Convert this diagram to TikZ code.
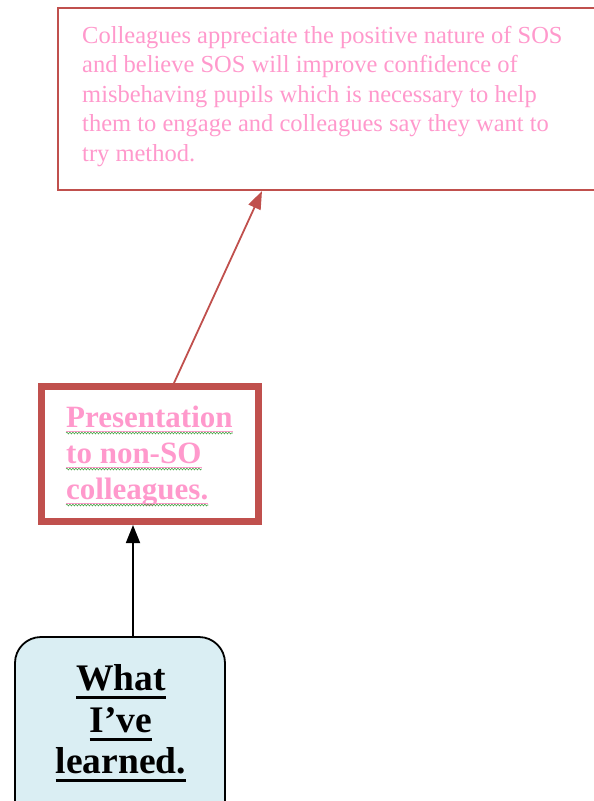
\documentclass[tikz,border=0pt]{standalone}
\usepackage{fontspec}
\setmainfont{Liberation Serif}
\usetikzlibrary{arrows.meta,calc,decorations.pathmorphing}
\definecolor{boxred}{HTML}{C0504D}
\definecolor{pinktext}{HTML}{FF99CC}
\definecolor{paleblue}{HTML}{DAEEF3}
\definecolor{spellgreen}{HTML}{4CA64C}
\tikzset{
  frame/.style={rectangle, inner sep=0pt, outer sep=0pt},
  noteline/.style={anchor=base west, inner sep=0pt, text=pinktext,
    font=\fontsize{24.5}{29.5}\selectfont},
  presline/.style={anchor=base west, inner sep=0pt, text=pinktext,
    font=\fontsize{31}{36}\selectfont\bfseries},
  learnline/.style={anchor=base, inner sep=0pt, text=black,
    font=\fontsize{37.5}{41}\selectfont\bfseries},
  redarrow/.style={draw=boxred, line width=1.8pt, -{Triangle[length=18pt,width=13pt]}},
  blackarrow/.style={draw=black, line width=1.8pt, -{Triangle[length=18pt,width=14pt]}},
}
\begin{document}
\begin{tikzpicture}[x=1pt,y=-1pt]
\useasboundingbox (0,0) rectangle (594,801);

% boxes
\node[frame, draw=boxred, line width=1.8pt, minimum width=562pt, minimum height=182pt]
  (note) at (339,99) {};
\node[frame, draw=boxred, line width=7pt, minimum width=217pt, minimum height=135pt]
  (pres) at (150,454) {};
\node[frame, draw=black, fill=paleblue, line width=1.8pt, rounded corners=26pt,
  minimum width=210pt, minimum height=193pt] (learn) at (120,733.5) {};

% text of the note box
\node[noteline] (n1) at (82,43) {Colleagues appreciate the positive nature of SOS};
\node[noteline] (n2) at (82,72.5) {and believe SOS will improve confidence of};
\node[noteline] (n3) at (82,102) {misbehaving pupils which is necessary to help};
\node[noteline] (n4) at (82,131.5) {them to engage and colleagues say they want to};
\node[noteline] (n5) at (82,161) {try method.};

% presentation box text with underlines
\node[presline] (p1) at (66,427) {Presentation};
\node[presline] (p2) at (66,463) {to non-SO};
\node[presline] (p3) at (66,499) {colleagues.};
\foreach \p in {p1,p2,p3}{
  \draw[pinktext, line width=1.2pt] ([yshift=-4.5pt]\p.base west) -- ([yshift=-4.5pt]\p.base east);
  \draw[spellgreen, line width=0.6pt, decorate,
    decoration={snake, amplitude=0.9pt, segment length=3pt}]
    ([yshift=-6pt]\p.base west) -- ([yshift=-6pt]\p.base east);
}

% learned box text with underlines
\node[learnline] (l1) at (121,690) {What};
\node[learnline] (l2) at (121,732) {I’ve};
\node[learnline] (l3) at (121,773) {learned.};
\foreach \l in {l1,l2,l3}{
  \draw[black, line width=3pt] ([yshift=-7pt]\l.base west) -- ([yshift=-7pt]\l.base east);
}

% connectors
\draw[redarrow] ([xshift=24pt,yshift=3.5pt]pres.north) -- ([xshift=-77pt,yshift=-1pt]note.south);
\draw[blackarrow] ([xshift=13pt]learn.north) -- ([xshift=-17pt,yshift=-3.5pt]pres.south);
\end{tikzpicture}
\end{document}
